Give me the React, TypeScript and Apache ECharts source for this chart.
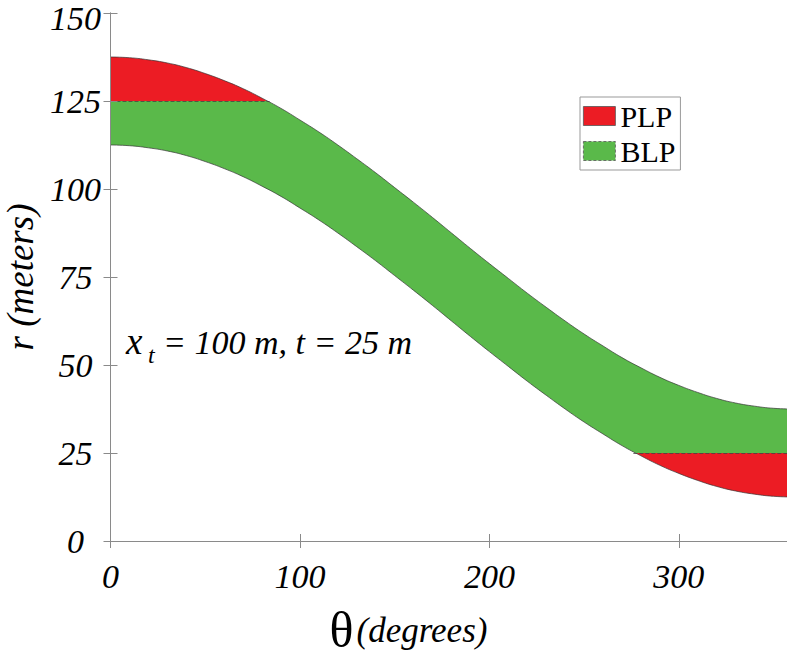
import React, { useEffect, useRef } from "react";
import * as echarts from "echarts";

// ---- data ----
const thetaDeg = [
  0, 10, 20, 30, 40, 50, 60, 70, 80, 90, 100, 110, 120, 130, 140, 150, 160, 170, 180,
  190, 200, 210, 220, 230, 240, 250, 260, 270, 280, 290, 300, 310, 320, 330, 340, 350, 360,
];
const upperR = [
  137.5, 137.3, 136.7, 135.8, 134.5, 132.8, 130.8, 128.5, 125.8, 122.9, 119.6, 116.2, 112.5,
  108.6, 104.6, 100.4, 96.2, 91.9, 87.5, 83.1, 78.8, 74.6, 70.4, 66.4, 62.5, 58.8, 55.4, 52.1,
  49.2, 46.5, 44.2, 42.2, 40.5, 39.2, 38.3, 37.7, 37.5,
];
const lowerR = [
  112.5, 112.3, 111.7, 110.8, 109.5, 107.8, 105.8, 103.5, 100.8, 97.9, 94.6, 91.2, 87.5, 83.6,
  79.6, 75.4, 71.2, 66.9, 62.5, 58.1, 53.8, 49.6, 45.4, 41.4, 37.5, 33.8, 30.4, 27.1, 24.2,
  21.5, 19.2, 17.2, 15.5, 14.2, 13.3, 12.7, 12.5,
];
// BLP limits (r) and the angles where the band crosses them
const blpLimits = [25, 125];
const crossTheta = [84, 276];
const seriesNames = ["PLP", "BLP"];
const xRange = [0, 360];
const yRange = [0, 150];
const annotation = ["x", "t", "= 100 m, t = 25 m"];

const RED = "#ec1c24";
const GREEN = "#5ab94a";
const AXIS = "#8a8a8a";
const SERIF = "Liberation Serif";

export default function App() {
  const ref = useRef<HTMLDivElement>(null);

  useEffect(() => {
    const chart = echarts.init(ref.current!, null, { renderer: "svg" });

    const upperData = thetaDeg.map((t, i) => [t, upperR[i]]);
    const lowerData = thetaDeg.map((t, i) => [t, lowerR[i]]);

    const axisCommon = {
      type: "value" as const,
      z: 10,
      axisLine: { show: true, lineStyle: { color: AXIS, width: 1 } },
      axisTick: { show: true, inside: true, length: 7, lineStyle: { color: AXIS } },
      splitLine: { show: false },
    };

    const labelFont = {
      color: "#000",
      fontFamily: SERIF,
      fontStyle: "italic",
      fontSize: 34,
    };

    const option: any = {
      animation: false,
      backgroundColor: "#fff",
      grid: {
        left: 110.5,
        top: 13,
        width: 682,
        height: 528,
        containLabel: false,
        outerBoundsMode: "none",
      },
      xAxis: [
        {
          ...axisCommon,
          min: xRange[0],
          max: xRange[1],
          interval: 100,
          position: "bottom",
          axisLabel: {
            ...labelFont,
            margin: 18,
            showMaxLabel: false,
          },
          name: "{th|θ}{d|(degrees)}",
          nameLocation: "middle",
          nameGap: 64,
          nameTextStyle: {
            padding: [0, 86, 0, 0],
            rich: {
              th: { fontFamily: SERIF, fontSize: 50, color: "#000" },
              d: {
                fontFamily: SERIF,
                fontSize: 35,
                fontStyle: "italic",
                color: "#000",
                padding: [0, 0, 0, 3],
              },
            },
          },
        },
        {
          ...axisCommon,
          min: xRange[0],
          max: xRange[1],
          interval: 100,
          position: "top",
          axisLabel: { show: false },
        },
      ],
      yAxis: [
        {
          ...axisCommon,
          min: yRange[0],
          max: yRange[1],
          interval: 25,
          position: "left",
          axisLabel: {
            ...labelFont,
            margin: 35,
            align: "center",
            formatter: (v: number) => (v === yRange[1] ? `{top|${v}}` : `{n|${v}}`),
            rich: {
              top: { ...labelFont, padding: [11, 0, 0, 0] },
              n: { ...labelFont },
            },
          },
          name: "r (meters)",
          nameLocation: "middle",
          nameGap: 69,
          nameTextStyle: {
            fontFamily: SERIF,
            fontStyle: "italic",
            fontSize: 37,
            color: "#000",
          },
        },
        {
          ...axisCommon,
          min: yRange[0],
          max: yRange[1],
          interval: 25,
          position: "right",
          axisLabel: { show: false },
        },
      ],
      visualMap: {
        type: "piecewise",
        show: false,
        seriesIndex: 0,
        dimension: 1,
        pieces: [
          { lt: blpLimits[0], color: RED },
          { gte: blpLimits[0], lte: blpLimits[1], color: GREEN },
          { gt: blpLimits[1], color: RED },
        ],
      },
      legend: {
        orient: "vertical",
        left: 580,
        top: 97,
        padding: [4, 5, 4, 3],
        itemGap: 5,
        itemWidth: 32,
        itemHeight: 19,
        borderColor: "#999",
        borderWidth: 1,
        backgroundColor: "#fff",
        selectedMode: false,
        z: 20,
        textStyle: { fontFamily: SERIF, fontSize: 30, color: "#000" },
        data: [
          {
            name: seriesNames[0],
            icon: "rect",
            itemStyle: { color: RED, borderColor: "#555", borderWidth: 0.8 },
          },
          {
            name: seriesNames[1],
            icon: "rect",
            itemStyle: {
              color: GREEN,
              borderColor: "#555",
              borderWidth: 0.8,
              borderType: [3, 2],
            },
          },
        ],
      },
      series: [
        {
          name: seriesNames[1],
          type: "line",
          data: upperData,
          smooth: true,
          symbol: "none",
          silent: true,
          lineStyle: { color: "#333", width: 0.7 },
          areaStyle: { opacity: 1, origin: "start" },
          z: 2,
        },
        {
          name: "lower",
          type: "line",
          data: lowerData,
          smooth: true,
          symbol: "none",
          silent: true,
          lineStyle: { color: "#333", width: 0.7 },
          areaStyle: { color: "#fff", opacity: 1, origin: "start" },
          z: 3,
          markLine: {
            silent: true,
            symbol: "none",
            z: 6,
            label: { show: false },
            lineStyle: { color: "#444", width: 0.8, type: [4, 2] },
            data: [
              [{ coord: [xRange[0], blpLimits[1]] }, { coord: [crossTheta[0], blpLimits[1]] }],
              [{ coord: [crossTheta[1], blpLimits[0]] }, { coord: [xRange[1], blpLimits[0]] }],
            ],
          },
        },
        {
          name: seriesNames[0],
          type: "line",
          data: [],
          symbol: "none",
          itemStyle: { color: RED },
          lineStyle: { color: RED },
        },
      ],
      graphic: [
        {
          type: "text",
          x: 126,
          y: 341,
          z: 50,
          style: {
            text: annotation[0],
            fontFamily: SERIF,
            fontStyle: "italic",
            fontSize: 37,
            fill: "#000",
            verticalAlign: "middle",
          },
        },
        {
          type: "text",
          x: 148,
          y: 355,
          z: 50,
          style: {
            text: annotation[1],
            fontFamily: SERIF,
            fontStyle: "italic",
            fontSize: 24,
            fill: "#000",
            verticalAlign: "middle",
          },
        },
        {
          type: "text",
          x: 163,
          y: 342,
          z: 50,
          style: {
            text: annotation[2],
            fontFamily: SERIF,
            fontStyle: "italic",
            fontSize: 34,
            fill: "#000",
            verticalAlign: "middle",
          },
        },
      ],
    };

    chart.setOption(option);
    return () => chart.dispose();
  }, []);

  return (
    <div
      ref={ref}
      style={{ position: "fixed", left: 0, top: 0, width: 787, height: 657, background: "#fff" }}
    />
  );
}
